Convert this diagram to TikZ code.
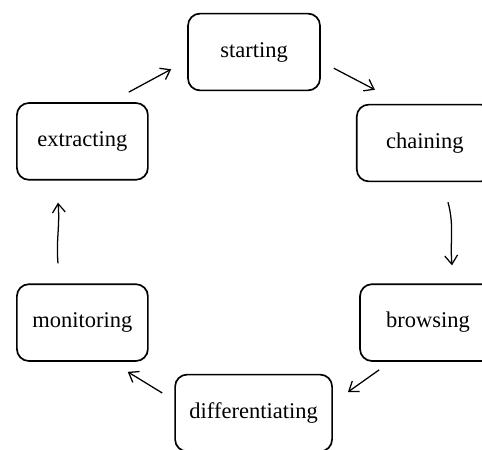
\documentclass[tikz,border=0pt]{standalone}
\usepackage{fontspec}
\setmainfont{Liberation Serif}
\usepackage{tikz}
\usetikzlibrary{arrows.meta,calc,positioning}
\usepackage{xcolor}

\tikzset{
  stage/.style={draw, line width=1.2pt, rounded corners=0.3cm, minimum width=3.3cm,
    minimum height=1.92cm, inner sep=2pt, font=\fontsize{16}{19}\selectfont},
  flow/.style={line width=0.9pt, -{Straight Barb[length=2.2mm,width=3.2mm,line width=0.9pt]}}
}

\begin{document}
\begin{tikzpicture}[scale=1]
  \useasboundingbox (0,0) rectangle (12.05,11.225);
  \node[stage] (starting) at (6.35,9.925) {starting};
  \node[stage,minimum width=3.275cm] (extracting) at (2.06,7.69) {extracting};
  \node[stage,minimum width=3.4cm] (chaining) at (10.62,7.65) {chaining};
  \node[stage,minimum width=3.4cm] (browsing) at (10.7,3.16) {browsing};
  \node[stage,minimum width=3.275cm] (monitoring) at (2.06,3.16) {monitoring};
  \node[stage,minimum width=3.925cm] (differentiating) at (6.34,0.9) {differentiating};
  % arrows go round the cycle, kept off the boxes
  \draw[flow] ([shift={(-0.5,0.25)}]extracting.north east) -- ([shift={(-0.4,0.55)}]starting.south west);
  \draw[flow] ([shift={(0.325,0.575)}]starting.south east) -- ([shift={(0.475,0.35)}]chaining.north west);
  \draw[flow] ([shift={(0.58,-0.5)}]chaining.south) to[out=-75,in=95] ([shift={(0.6,0.45)}]browsing.north);
  \draw[flow] ([shift={(0.5,-0.2)}]browsing.south west) -- ([shift={(0.375,0.525)}]differentiating.east);
  \draw[flow] ([shift={(-0.3,0.5)}]differentiating.west) -- ([shift={(-0.525,-0.25)}]monitoring.south east);
  \draw[flow] ([shift={(-0.61,0.5)}]monitoring.north) to[out=95,in=-85] ([shift={(-0.61,-0.55)}]extracting.south);
\end{tikzpicture}
\end{document}
